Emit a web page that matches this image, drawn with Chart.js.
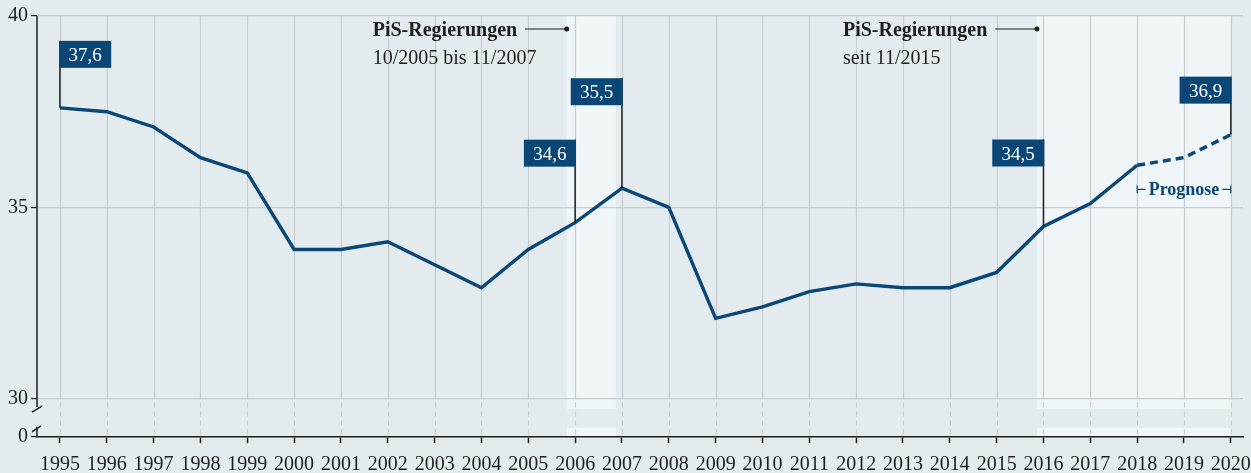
<!DOCTYPE html>
<html><head><meta charset="utf-8">
<script src="https://cdn.jsdelivr.net/npm/chart.js@4/dist/chart.umd.min.js"></script>
<style>html,body{margin:0;padding:0;background:#e3ebee}#wrap{width:1251px;height:473px}</style>
</head><body><div id="wrap"><canvas id="c" width="1251" height="473"></canvas></div>
<script>
const years = [1995,1996,1997,1998,1999,2000,2001,2002,2003,2004,2005,2006,2007,2008,2009,2010,2011,2012,2013,2014,2015,2016,2017,2018,2019,2020];
const values = [37.6,37.5,37.1,36.3,35.9,33.9,33.9,34.1,33.5,32.9,33.9,34.6,35.5,35.0,32.1,32.4,32.8,33.0,32.9,32.9,33.3,34.5,35.1,36.1,36.3,36.9];
const forecastFrom = 2018;
const yTickValues = [29,30,35,40];
const yTickLabels = ['0','30','35','40'];
const labelYears = [1995,2006,2007,2016,2020];
const labelTexts = ['37,6','34,6','35,5','34,5','36,9'];
const bandRanges = [[2005.82,2006.87],[2015.86,2020]];
const bandTitles = ['PiS-Regierungen','PiS-Regierungen'];
const bandSubtitles = ['10/2005 bis 11/2007','seit 11/2015'];
const forecastLabel = 'Prognose';

const BG='#e3ebee', BAND='#f0f5f8', GRID='#c6ced2', BLUE='#0a4777', INK='#1e1e1e';
const FONT='"Liberation Serif", serif';
// label placement (pixels above point, side of leader line)
const labelPlace = [{dy:67,side:'right'},{dy:83,side:'left'},{dy:110,side:'left'},{dy:87,side:'left'},{dy:58,side:'left'}];
const BREAK_TOP = 29.73, BREAK_BOT = 29.24;

const deco = {
  id:'deco',
  beforeDraw(chart){
    const {ctx, chartArea:a, scales:{x,y}} = chart;
    ctx.save();
    ctx.fillStyle=BG; ctx.fillRect(0,0,chart.width,chart.height);
    ctx.fillStyle=BAND;
    const yt=y.getPixelForValue(BREAK_TOP), yb=y.getPixelForValue(BREAK_BOT);
    bandRanges.forEach(([s,e])=>{
      const x0=x.getPixelForValue(s), x1=x.getPixelForValue(e);
      ctx.fillRect(x0,a.top,x1-x0,yt-a.top);
      ctx.fillRect(x0,yb,x1-x0,a.bottom-yb);
    });
    ctx.restore();
  },
  beforeDatasetsDraw(chart){
    const {ctx, chartArea:a, scales:{x,y}} = chart;
    ctx.save();
    ctx.strokeStyle=GRID; ctx.lineWidth=1.2;
    const y30=Math.round(y.getPixelForValue(30))+0.5;
    years.forEach(yr=>{
      const px=Math.round(x.getPixelForValue(yr))+0.5;
      ctx.setLineDash([]);
      ctx.beginPath(); ctx.moveTo(px,a.top); ctx.lineTo(px,y30); ctx.stroke();
      ctx.setLineDash([5,4]);
      ctx.beginPath(); ctx.moveTo(px,y30+3); ctx.lineTo(px,a.bottom); ctx.stroke();
    });
    ctx.setLineDash([]);
    // y axis with break
    ctx.strokeStyle=INK; ctx.lineWidth=1.5;
    const ax=a.left;
    const b1=y.getPixelForValue(BREAK_TOP), b2=y.getPixelForValue(BREAK_BOT);
    ctx.beginPath(); ctx.moveTo(ax,a.top); ctx.lineTo(ax,b1-2); ctx.stroke();
    ctx.beginPath(); ctx.moveTo(ax-5,b1+3); ctx.lineTo(ax+5,b1-3); ctx.stroke();
    ctx.beginPath(); ctx.moveTo(ax,b2-1); ctx.lineTo(ax,a.bottom); ctx.stroke();
    ctx.beginPath(); ctx.moveTo(ax-5,b2+4); ctx.lineTo(ax+4,b2-2); ctx.stroke();
    ctx.restore();
  },
  afterDraw(chart){
    const {ctx, chartArea:a, scales:{x,y}} = chart;
    ctx.save();
    // x tick labels
    ctx.fillStyle=INK; ctx.font='20px '+FONT; ctx.textAlign='center'; ctx.textBaseline='alphabetic';
    years.forEach(yr=>{ ctx.fillText(String(yr), x.getPixelForValue(yr), a.bottom+33); });
    // data labels
    labelYears.forEach((yr,i)=>{
      const idx=years.indexOf(yr);
      const px=x.getPixelForValue(yr), py=y.getPixelForValue(values[idx]);
      const p=labelPlace[i];
      const top=py-p.dy, w=52, h=27;
      ctx.strokeStyle=INK; ctx.lineWidth=1.5;
      ctx.beginPath(); ctx.moveTo(px,top); ctx.lineTo(px,py); ctx.stroke();
      const bx = p.side==='right' ? px-0.75 : px-w+0.75;
      ctx.fillStyle=BLUE; ctx.fillRect(bx,top,w,h);
      ctx.fillStyle='#ffffff'; ctx.font='19px '+FONT; ctx.textAlign='center'; ctx.textBaseline='alphabetic';
      ctx.fillText(labelTexts[i], bx+w/2, top+20);
    });
    // band annotations
    bandRanges.forEach(([s],i)=>{
      const dx=x.getPixelForValue(s), dy=a.top+13;
      const tx=dx-194;
      ctx.fillStyle=INK; ctx.textAlign='left'; ctx.textBaseline='alphabetic';
      ctx.font='bold 20px '+FONT;
      ctx.fillText(bandTitles[i], tx, dy+7);
      const tw=ctx.measureText(bandTitles[i]).width;
      ctx.font='20px '+FONT;
      ctx.fillText(bandSubtitles[i], tx, dy+35);
      ctx.strokeStyle=INK; ctx.lineWidth=1.2;
      ctx.beginPath(); ctx.moveTo(tx+tw+8,dy); ctx.lineTo(dx,dy); ctx.stroke();
      ctx.beginPath(); ctx.arc(dx,dy,2.5,0,Math.PI*2); ctx.fillStyle=INK; ctx.fill();
    });
    // forecast bracket
    const fx0=x.getPixelForValue(forecastFrom), fx1=x.getPixelForValue(years[years.length-1]);
    const fy=y.getPixelForValue(35)-18;
    ctx.font='bold 18px '+FONT; ctx.fillStyle=BLUE; ctx.textAlign='center'; ctx.textBaseline='alphabetic';
    const cx=(fx0+fx1)/2;
    ctx.fillText(forecastLabel,cx,fy+6);
    const fw=ctx.measureText(forecastLabel).width;
    ctx.strokeStyle=BLUE; ctx.lineWidth=1.2;
    ctx.beginPath();
    ctx.moveTo(fx0,fy-4); ctx.lineTo(fx0,fy+4);
    ctx.moveTo(fx0,fy); ctx.lineTo(cx-fw/2-3,fy);
    ctx.moveTo(fx1,fy-4); ctx.lineTo(fx1,fy+4);
    ctx.moveTo(fx1,fy); ctx.lineTo(cx+fw/2+3,fy);
    ctx.stroke();
    ctx.restore();
  }
};

new Chart(document.getElementById('c'),{
  type:'line',
  data:{datasets:[{
    data: years.map((yr,i)=>({x:yr,y:values[i]})),
    borderColor:BLUE, borderWidth:3.4, pointRadius:0, tension:0,
    borderCapStyle:'butt', borderJoinStyle:'miter',
    segment:{borderDash: c => c.p0.parsed.x >= forecastFrom ? [8,5] : undefined}
  }]},
  options:{
    responsive:false, animation:false, devicePixelRatio:1,
    layout:{padding:{top:16,right:8,left:0,bottom:0}},
    plugins:{legend:{display:false},tooltip:{enabled:false}},
    scales:{
      x:{type:'linear', min:1994.51, max:2020.26,
        afterBuildTicks: s => { s.ticks = years.map(v=>({value:v})); },
        afterFit: s => { s.height = 36; },
        ticks:{display:false},
        grid:{drawOnChartArea:false, drawTicks:true, tickLength:6, tickColor:INK, tickWidth:1.5},
        border:{display:true, color:INK, width:1.5}
      },
      y:{type:'linear', min:29, max:40,
        afterBuildTicks: s => { s.ticks = yTickValues.map(v=>({value:v})); },
        afterFit: s => { s.width = 37; },
        ticks:{padding:3, color:INK, font:{family:FONT,size:20},
          callback: v => yTickLabels[yTickValues.indexOf(v)]},
        grid:{color: c => c.tick && c.tick.value===29 ? 'rgba(0,0,0,0)' : GRID, lineWidth:1.2,
          tickColor:INK, tickLength:6, tickWidth:1.2},
        border:{display:false}
      }
    }
  },
  plugins:[deco]
});
</script></body></html>
